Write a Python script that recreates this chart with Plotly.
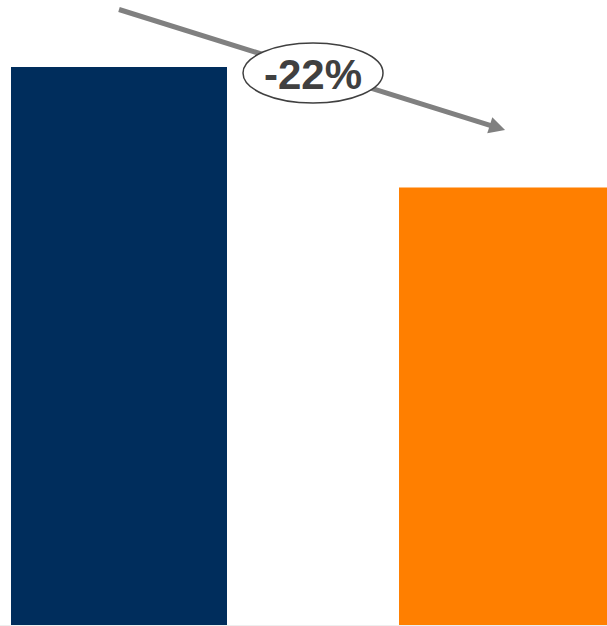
import math
import plotly.graph_objects as go

# Two periods compared, with the change shown as an arrow and a callout
categories = ["Before", "After"]
values = [100, 78.4]
colors = ["#002D5C", "#FF7F00"]

change_pct = round((values[1] - values[0]) / values[0] * 100)
change_label = f"{change_pct}%"

W, H = 607, 626
MARGIN_B = 1
PLOT_H = H - MARGIN_B

# Axis ranges (category 0 sits at x=0, category 1 at x=1)
x_range = [-0.3067, 1.2577]
y_range = [0, 112.0]


def px_to_data(px, py):
    """Convert a pixel position in the plot area to data coordinates."""
    x = x_range[0] + px / W * (x_range[1] - x_range[0])
    y = y_range[0] + (PLOT_H - py) / PLOT_H * (y_range[1] - y_range[0])
    return x, y


def data_to_px(x, y):
    px = (x - x_range[0]) / (x_range[1] - x_range[0]) * W
    py = PLOT_H - (y - y_range[0]) / (y_range[1] - y_range[0]) * PLOT_H
    return px, py


fig = go.Figure(
    go.Bar(
        x=[0, 1],
        y=values,
        width=0.5567,
        marker=dict(color=colors, line=dict(width=0)),
        hoverinfo="skip",
    )
)

# Trend arrow: from above the first bar to above the second bar
arrow_gap = 10.3
start = (0.0, values[0] + arrow_gap)
end = (0.995, values[1] + arrow_gap)
sx, sy = data_to_px(*start)
ex, ey = data_to_px(*end)
dx, dy = ex - sx, ey - sy
length = math.hypot(dx, dy)
ux, uy = dx / length, dy / length
nx, ny = -uy, ux
head_len, head_half = 16, 8.5
bx, by = ex - head_len * ux, ey - head_len * uy

arrow_color = "#808080"
line_end = px_to_data(bx + 2 * ux, by + 2 * uy)
c1 = px_to_data(bx + head_half * nx, by + head_half * ny)
c2 = px_to_data(bx - head_half * nx, by - head_half * ny)
tip = px_to_data(ex, ey)

shapes = [
    dict(
        type="line", xref="x", yref="y",
        x0=start[0], y0=start[1], x1=line_end[0], y1=line_end[1],
        line=dict(color=arrow_color, width=5), layer="above",
    ),
    dict(
        type="path", xref="x", yref="y",
        path=f"M{tip[0]},{tip[1]} L{c1[0]},{c1[1]} L{c2[0]},{c2[1]} Z",
        fillcolor=arrow_color, line=dict(width=0), layer="above",
    ),
]

# Callout ellipse centred between the bars
cx_px, cy_px = data_to_px(0.5, 0)[0], 73
rx_px, ry_px = 70, 30
ex0, ey0 = px_to_data(cx_px - rx_px, cy_px + ry_px)
ex1, ey1 = px_to_data(cx_px + rx_px, cy_px - ry_px)
shapes.append(
    dict(
        type="circle", xref="x", yref="y",
        x0=ex0, y0=ey0, x1=ex1, y1=ey1,
        fillcolor="white", line=dict(color="#404040", width=1.5), layer="above",
    )
)

label_x, label_y = px_to_data(cx_px, cy_px + 1)

fig.update_layout(
    width=W,
    height=H,
    margin=dict(l=0, r=0, t=0, b=MARGIN_B, pad=0),
    paper_bgcolor="white",
    plot_bgcolor="white",
    showlegend=False,
    shapes=shapes,
    annotations=[
        dict(
            x=label_x, y=label_y, xref="x", yref="y",
            text=f"<b>{change_label}</b>",
            showarrow=False,
            font=dict(family="Liberation Sans, Arial, sans-serif", size=42, color="#404040"),
            xanchor="center", yanchor="middle",
        )
    ],
    xaxis=dict(
        range=x_range, showgrid=False, zeroline=False, showticklabels=False,
        ticks="", showline=True, linecolor="#eeeeee", linewidth=1, fixedrange=True,
    ),
    yaxis=dict(
        range=y_range, showgrid=False, zeroline=False, showticklabels=False,
        ticks="", showline=False, fixedrange=True,
    ),
)

fig.write_html("out.html")
